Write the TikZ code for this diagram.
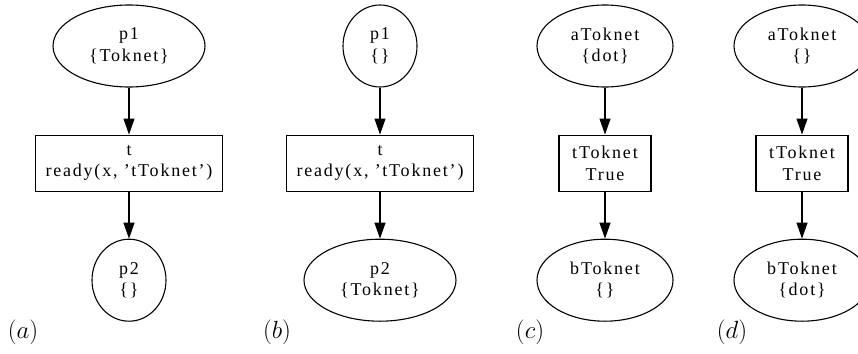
\documentclass[tikz,border=0pt]{standalone}
\usepackage{fontspec}
\newfontfamily\gvfont{Liberation Serif}[Ligatures=TeX, LetterSpace=10]
\usetikzlibrary{positioning,shapes.geometric,arrows.meta}

\begin{document}
\begin{tikzpicture}[
      x=1pt, y=1pt,
      line width=1.1pt,
      inner sep=0pt,
      node distance=47pt,
      every node/.style={font=\gvfont\fontsize{18}{21.5}\selectfont, align=center},
      place/.style={draw, ellipse, minimum height=82pt},
      trans/.style={draw, rectangle, minimum height=56pt},
      arc/.style={-{Triangle[length=16pt,width=11pt]}},
      tag/.style={font=\fontsize{26}{30}\selectfont}]

    % page size
    \useasboundingbox (0,0) rectangle (858,-353);

    % (a) before firing
    \node[place, minimum width=152pt] (pa1) at (129,-46) {p1\\\{Toknet\}};
    \node[trans, minimum width=187pt, below=of pa1] (ta) {t\\ready(x, 'tToknet')};
    \node[place, minimum width=74pt, below=of ta] (pa2) {p2\\\{\}};
    \draw[arc] (pa1) -- (ta);
    \draw[arc] (ta) -- (pa2);

    % (b) after firing
    \node[place, minimum width=74pt] (pb1) at (380,-46) {p1\\\{\}};
    \node[trans, minimum width=187pt, below=of pb1] (tb) {t\\ready(x, 'tToknet')};
    \node[place, minimum width=152pt, below=of tb] (pb2) {p2\\\{Toknet\}};
    \draw[arc] (pb1) -- (tb);
    \draw[arc] (tb) -- (pb2);

    % (c) before firing
    \node[place, minimum width=136pt] (pc1) at (605,-46) {aToknet\\\{dot\}};
    \node[trans, minimum width=92pt, below=of pc1] (tc) {tToknet\\True};
    \node[place, minimum width=136pt, below=of tc] (pc2) {bToknet\\\{\}};
    \draw[arc] (pc1) -- (tc);
    \draw[arc] (tc) -- (pc2);

    % (d) after firing
    \node[place, minimum width=136pt] (pd1) at (802,-46) {aToknet\\\{\}};
    \node[trans, minimum width=92pt, below=of pd1] (td) {tToknet\\True};
    \node[place, minimum width=136pt, below=of td] (pd2) {bToknet\\\{dot\}};
    \draw[arc] (pd1) -- (td);
    \draw[arc] (td) -- (pd2);

    % captions
    \node[tag] (la) at (23,-332) {$(a)$};
    \node[tag] (lb) at (277,-332) {$(b)$};
    \node[tag] (lc) at (530,-332) {$(c)$};
    \node[tag] (ld) at (732,-332) {$(d)$};

  \end{tikzpicture}
\end{document}
